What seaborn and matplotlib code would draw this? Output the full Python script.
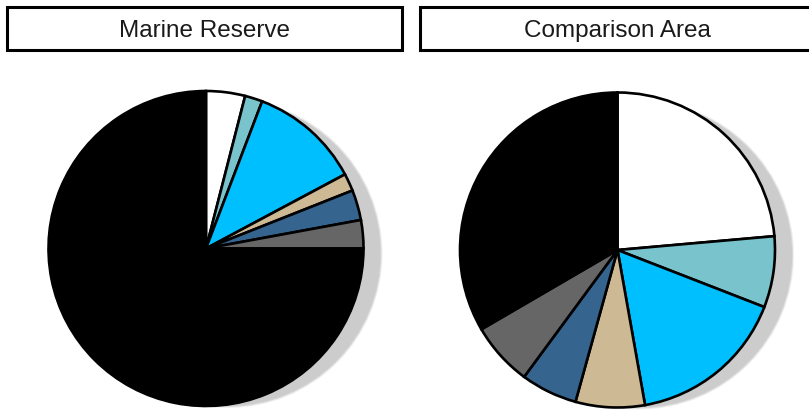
import numpy as np
import matplotlib
matplotlib.use("Agg")
import matplotlib.pyplot as plt
from matplotlib.patches import Rectangle, Circle
import seaborn as sns

sns.set_theme(style="white")
plt.rcParams['font.family'] = ['Liberation Sans', 'DejaVu Sans']

# Data (percent shares, clockwise from 12 o'clock)
categories = ["White", "Light teal", "Sky blue", "Tan", "Steel blue", "Gray", "Black"]
colors = ["#FFFFFF", "#79C4CC", "#00BFFF", "#CDB994", "#35658E", "#666666", "#000000"]
marine_reserve = [4.0, 1.8, 11.4, 1.8, 3.1, 2.9, 75.0]
comparison_area = [23.6, 7.3, 16.3, 7.1, 5.8, 6.5, 33.4]
panel_titles = ["Marine Reserve", "Comparison Area"]

W, H = 809, 414
fig = plt.figure(figsize=(W / 100, H / 100), dpi=100)
fig.patch.set_facecolor("white")

R_PX = 157.5
half = 190.0
centers = [(206.0, H - 249.5), (617.5, H - 251.0)]
boxes = [(6.5, 402.0), (419.5, 815.0)]


def add_shadow(ax, ox, oy, dr):
    r0 = 1.0 + dr
    for k, a in [(2.0, 0.3), (1.0, 0.6)]:
        ax.add_patch(Circle((ox, oy), r0 + k / R_PX, facecolor="#cccccc",
                            edgecolor="none", alpha=a, zorder=0))
    ax.add_patch(Circle((ox, oy), r0, facecolor="#cccccc", edgecolor="none", zorder=0.5))


for i, (vals, title) in enumerate(zip([marine_reserve, comparison_area], panel_titles)):
    cx, cy = centers[i]
    ax = fig.add_axes([(cx - half) / W, (cy - half) / H, 2 * half / W, 2 * half / H])
    lim = half / R_PX
    add_shadow(ax, 22.0 / R_PX, -5.0 / R_PX, -5.0 / R_PX)
    wedges, _ = ax.pie(vals, colors=colors, startangle=90, counterclock=False,
                       radius=1.0,
                       wedgeprops=dict(edgecolor="black", linewidth=1.9, zorder=2))
    ax.set_xlim(-lim, lim)
    ax.set_ylim(-lim, lim)
    ax.set_aspect("equal")
    ax.axis("off")

    x0, x1 = boxes[i]
    y_top, y_bot = 7.5, 51.0
    rect = Rectangle((x0 / W, 1 - y_bot / H), (x1 - x0) / W, (y_bot - y_top) / H,
                     transform=fig.transFigure, facecolor="white", edgecolor="black",
                     linewidth=2.2, zorder=5)
    fig.add_artist(rect)
    fig.text(((x0 + x1) / 2) / W, 1 - 31.0 / H, title, ha="center", va="center",
             fontsize=17.5, color="#1a1a1a", zorder=6)

fig.savefig("out.png", dpi=100, facecolor="white")
